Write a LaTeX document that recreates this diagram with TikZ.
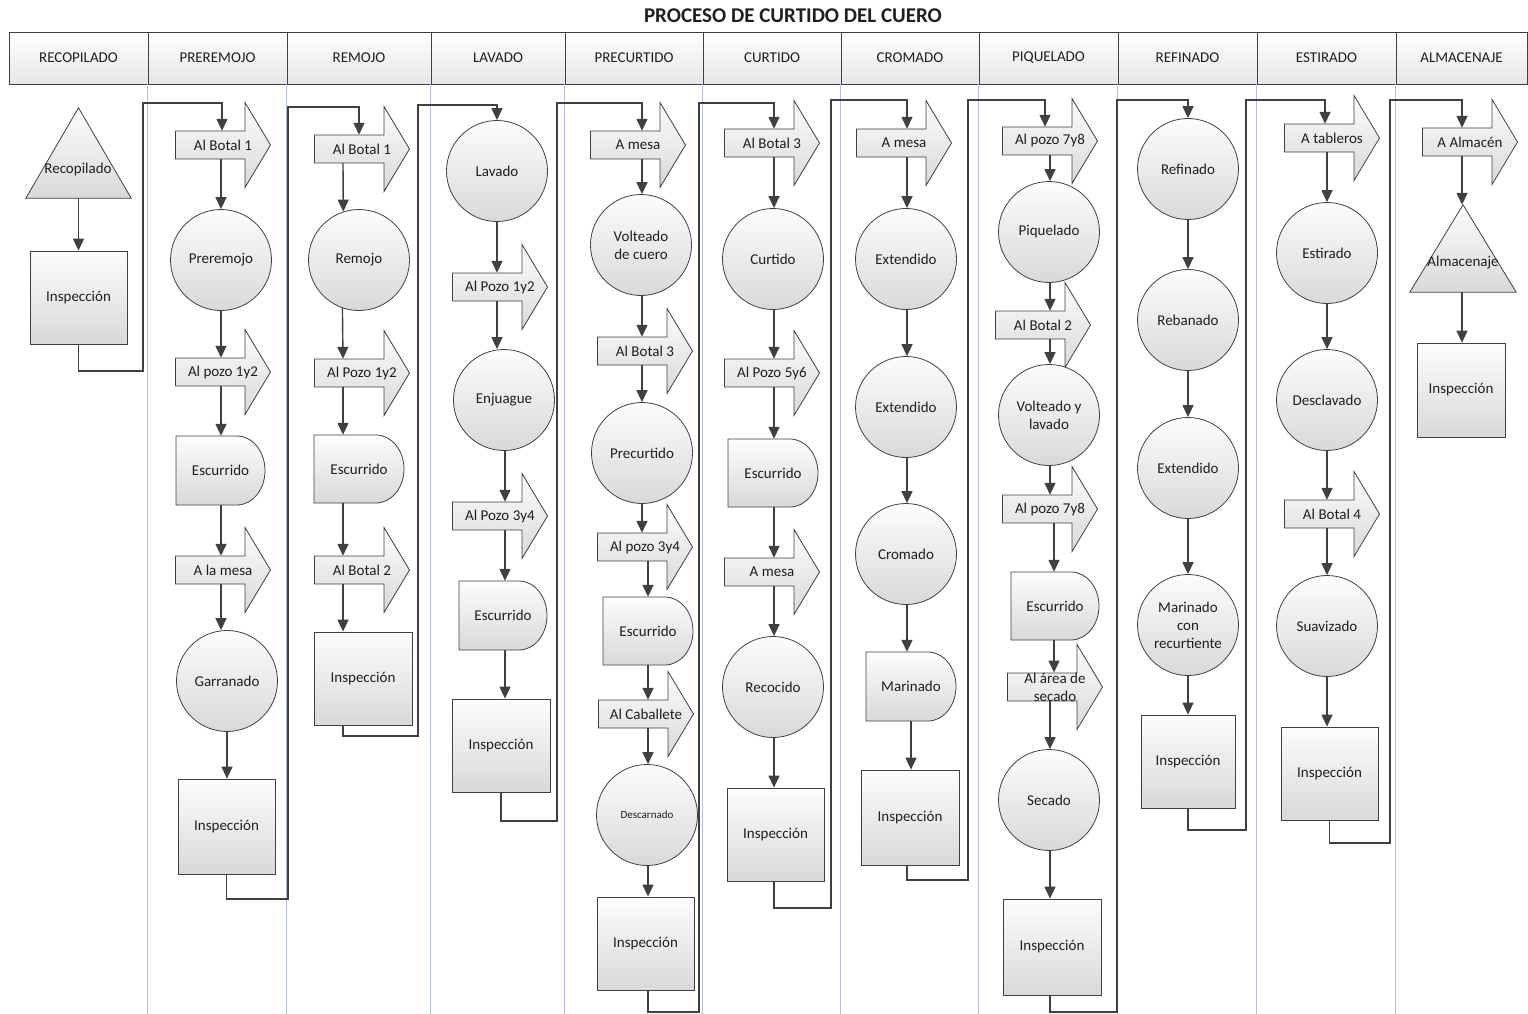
\documentclass[tikz,border=0pt]{standalone}
\usepackage{fontspec}
\setmainfont{Carlito}
\usetikzlibrary{arrows.meta}
\definecolor{linec}{HTML}{404040}
\definecolor{txtc}{HTML}{1F1F1F}
\definecolor{sepc}{HTML}{B4BEE4}
\tikzset{
 shp/.style={draw=linec, line width=0.8pt, top color=black!1, bottom color=black!15},
 txt/.style={text=txtc, font=\fontsize{15}{18}\selectfont, inner sep=0pt, align=center},
 flow/.style={draw=linec, line width=1.4pt, -{Triangle[length=12pt,width=11pt]}},
 box/.style={shp, txt, rectangle},
 proc/.style={shp, txt, circle, minimum size=101},
 trin/.style={inner sep=0pt, rectangle},
 hdr/.style={draw=linec, line width=0.8pt, top color=white, bottom color=black!10, txt, minimum height=52},
 sep/.style={draw=sepc, line width=0.8pt},
}
\newcommand\flowarr[4]{%
 \path[shp] ({#2-47.5},{#3-14}) -- ({#2+22},{#3-14}) -- ({#2+22},{#3-42.5}) -- ({#2+47.5},#3) -- ({#2+22},{#3+42.5}) -- ({#2+22},{#3+14}) -- ({#2-47.5},{#3+14}) -- cycle;
 \node[txt, minimum width=95, minimum height=28] (#1) at (#2,#3) {#4};}
\newcommand\delayshape[6]{%
 \path[shp] (#2,#3) -- ({#4-28},#3) arc[start angle=-90, end angle=90, x radius=28, y radius={(#5-#3)/2}] -- (#2,#5) -- cycle;
 \node[txt, minimum width={#4-#2}, minimum height={#5-#3}] (#1) at ({(#2+#4)/2},{(#3+#5)/2}) {#6};}
\newcommand\fl[3]{\draw[flow] (#1.south -| #3) -- (#2.north -| #3);}
\begin{document}
\begin{tikzpicture}[x=1pt,y=-1pt]
\useasboundingbox (0,0) rectangle (1528,1014);
% title
\node[text=txtc, font=\bfseries\fontsize{21}{24}\selectfont] (title) at (793,16) {PROCESO DE CURTIDO DEL CUERO};
% headers
\node[hdr, minimum width=139] (h1) at (78.5,58) {RECOPILADO};
\node[hdr, minimum width=139] (h2) at (217.5,58) {PREREMOJO};
\node[hdr, minimum width=144] (h3) at (359,58) {REMOJO};
\node[hdr, minimum width=134] (h4) at (498,58) {LAVADO};
\node[hdr, minimum width=138] (h5) at (634,58) {PRECURTIDO};
\node[hdr, minimum width=138] (h6) at (772,58) {CURTIDO};
\node[hdr, minimum width=138] (h7) at (910,58) {CROMADO};
\node[hdr, minimum width=139] (h8) at (1048.5,58) {PIQUELADO};
\node[hdr, minimum width=139] (h9) at (1187.5,58) {REFINADO};
\node[hdr, minimum width=139] (h10) at (1326.5,58) {ESTIRADO};
\node[hdr, minimum width=131] (h11) at (1461.5,58) {ALMACENAJE};
% column separators
\foreach \h in {h2,h3,h4,h5,h6,h7,h8,h9,h10,h11}{\draw[sep] (\h.south west) -- ++(0,930);}
% flow x coordinates
\coordinate (f1) at (78,0);
\coordinate (f2) at (221,0);
\coordinate (e2) at (222,0);
\coordinate (f3) at (343,0);
\coordinate (e3) at (359,0);
\coordinate (f4a) at (497,0);
\coordinate (f4b) at (505,0);
\coordinate (f5a) at (642,0);
\coordinate (f5b) at (648,0);
\coordinate (f6) at (774,0);
\coordinate (f7) at (907,0);
\coordinate (f7b) at (911,0);
\coordinate (e8) at (1045,0);
\coordinate (f8) at (1050,0);
\coordinate (f8b) at (1054,0);
\coordinate (f9) at (1188,0);
\coordinate (e10) at (1325,0);
\coordinate (f10) at (1327,0);
\coordinate (f11) at (1462,0);
% ---------- column 1
\node[trin, minimum width=105, minimum height=90] (tri1) at (78.5,153) {};
\path[shp] (tri1.south west) -- (tri1.south east) -- (tri1.north) -- cycle;
\node[txt] (tri1t) at (78,170) {Recopilado};
\node[box, minimum width=97, minimum height=93] (insp1) at (78.5,297.5) {Inspección};
\draw[flow] (tri1.south) -- (insp1.north);
% ---------- column 2
\flowarr{a21}{223}{145}{Al Botal 1}
\node[proc] (c21) at (221,260) {Preremojo};
\flowarr{a22}{223}{372}{Al pozo 1y2}
\delayshape{d21}{176}{436}{265}{505}{Escurrido}
\flowarr{a23}{223}{570}{A la mesa}
\node[proc] (c22) at (227,681) {Garranado};
\node[box, minimum width=97, minimum height=95] (insp2) at (226.5,826.5) {Inspección};
\fl{a21}{c21}{f2}
\fl{c21}{a22}{f2}
\fl{a22}{d21}{f2}
\fl{d21}{a23}{f2}
\fl{a23}{c22}{f2}
\draw[flow] (c22.south) -- (insp2.north -| c22.south);
% ---------- column 3
\flowarr{a31}{362}{149}{Al Botal 1}
\node[proc] (c31) at (359,260) {Remojo};
\flowarr{a32}{362}{373}{Al Pozo 1y2}
\delayshape{d31}{314}{435}{404}{503}{Escurrido}
\flowarr{a33}{362}{570}{Al Botal 2}
\node[box, minimum width=98, minimum height=93] (insp3) at (363,678.5) {Inspección};
\draw[flow] (a31.south -| f3) -- (c31.108.5);
\draw[flow] (c31.251.5) -- (a32.north -| f3);
\fl{a32}{d31}{f3}
\fl{d31}{a33}{f3}
\fl{a33}{insp3}{f3}
% ---------- column 4
\node[proc] (c41) at (497,171) {Lavado};
\flowarr{a41}{500}{287}{Al Pozo 1y2}
\node[proc] (c42) at (504,400) {Enjuague};
\flowarr{a42}{500}{516}{Al Pozo 3y4}
\delayshape{d41}{459}{581}{547}{650}{Escurrido}
\node[box, minimum width=98, minimum height=93] (insp4) at (501,745.5) {Inspección};
\fl{c41}{a41}{f4a}
\fl{a41}{c42}{f4a}
\fl{c42}{a42}{f4b}
\fl{a42}{d41}{f4b}
\fl{d41}{insp4}{f4b}
% ---------- column 5
\flowarr{a51}{638}{145}{A mesa}
\node[proc] (c51) at (641,245) {Volteado\\de cuero};
\flowarr{a52}{645}{351}{Al Botal 3}
\node[proc] (c52) at (642,453) {Precurtido};
\flowarr{a53}{645}{547}{Al pozo 3y4}
\delayshape{d51}{603}{597}{693}{665}{Escurrido}
\flowarr{a54}{646}{714}{Al Caballete}
\node[proc, font=\fontsize{11}{13}\selectfont] (c53) at (647,815) {Descarnado};
\node[box, minimum width=97, minimum height=93] (insp5) at (645.5,943.5) {Inspección};
\fl{a51}{c51}{f5a}
\fl{c51}{a52}{f5a}
\fl{a52}{c52}{f5a}
\fl{c52}{a53}{f5a}
\fl{a53}{d51}{f5b}
\fl{d51}{a54}{f5b}
\fl{a54}{c53}{f5b}
\fl{c53}{insp5}{f5b}
% ---------- column 6
\flowarr{a61}{772}{143}{Al Botal 3}
\node[proc] (c61) at (773,259) {Curtido};
\flowarr{a62}{772}{373}{Al Pozo 5y6}
\delayshape{d61}{728}{439}{818}{507}{Escurrido}
\flowarr{a63}{772}{572}{A mesa}
\node[proc] (c62) at (773,687) {Recocido};
\node[box, minimum width=97, minimum height=93] (insp6) at (775.5,834.5) {Inspección};
\fl{a61}{c61}{f6}
\fl{c61}{a62}{f6}
\fl{a62}{d61}{f6}
\fl{d61}{a63}{f6}
\fl{a63}{c62}{f6}
\fl{c62}{insp6}{f6}
% ---------- column 7
\flowarr{a71}{904}{143}{A mesa}
\node[proc] (c71) at (906,259) {Extendido};
\node[proc] (c72) at (906,407) {Extendido};
\node[proc] (c73) at (906,554) {Cromado};
\delayshape{d71}{866}{652}{956}{721}{Marinado}
\node[box, minimum width=98, minimum height=95] (insp7) at (910,817.5) {Inspección};
\fl{a71}{c71}{f7}
\fl{c71}{c72}{f7}
\fl{c72}{c73}{f7}
\fl{c73}{d71}{f7}
\fl{d71}{insp7}{f7b}
% ---------- column 8
\flowarr{a81}{1050}{141}{Al pozo 7y8}
\node[proc] (c81) at (1049,232) {Piquelado};
\flowarr{a82}{1043}{325}{Al Botal 2}
\node[proc] (c82) at (1049,415) {Volteado y\\lavado};
\flowarr{a83}{1050}{509}{Al pozo 7y8}
\delayshape{d81}{1011}{572}{1099}{640}{Escurrido}
\flowarr{a84}{1055}{687}{Al área de\\secado}
\node[proc] (c83) at (1049,800) {Secado};
\node[box, minimum width=98, minimum height=96] (insp8) at (1052,947) {Inspección};
\fl{a81}{c81}{f8}
\fl{c81}{a82}{f8}
\fl{a82}{c82}{f8}
\fl{c82}{a83}{f8}
\fl{a83}{d81}{f8b}
\fl{d81}{a84}{f8b}
\fl{a84}{c83}{f8}
\fl{c83}{insp8}{f8}
% ---------- column 9
\node[proc] (c91) at (1188,169) {Refinado};
\node[proc] (c92) at (1188,320) {Rebanado};
\node[proc] (c93) at (1188,468) {Extendido};
\node[proc] (c94) at (1188,625) {Marinado\\con\\recurtiente};
\node[box, minimum width=94, minimum height=93] (insp9) at (1188,761.5) {Inspección};
\fl{c91}{c92}{f9}
\fl{c92}{c93}{f9}
\fl{c93}{c94}{f9}
\fl{c94}{insp9}{f9}
% ---------- column 10
\flowarr{a101}{1332}{138}{A tableros}
\node[proc] (c101) at (1327,253) {Estirado};
\node[proc] (c102) at (1327,400) {Desclavado};
\flowarr{a102}{1332}{514}{Al Botal 4}
\node[proc] (c103) at (1327,626) {Suavizado};
\node[box, minimum width=97, minimum height=93] (insp10) at (1329.5,773.5) {Inspección};
\fl{a101}{c101}{f10}
\fl{c101}{c102}{f10}
\fl{c102}{a102}{f10}
\fl{a102}{c103}{f10}
\fl{c103}{insp10}{f10}
% ---------- column 11
\flowarr{a111}{1470}{142}{A Almacén}
\node[trin, minimum width=106, minimum height=87] (tri2) at (1463,248.5) {};
\path[shp] (tri2.south west) -- (tri2.south east) -- (tri2.north) -- cycle;
\node[txt] (tri2t) at (1463,263) {Almacenaje};
\node[box, minimum width=88, minimum height=94] (insp11) at (1461,390) {Inspección};
\fl{a111}{tri2}{f11}
\fl{tri2}{insp11}{f11}
% ---------- return connectors
\coordinate (r1a) at (143,371); \coordinate (r1b) at (143,103);
\draw[flow] (insp1.south) |- (r1a) -- (r1b) -| (a21.north -| e2);
\coordinate (r2a) at (288,899); \coordinate (r2b) at (288,107);
\draw[flow] (insp2.south) |- (r2a) -- (r2b) -| (a31.north -| e3);
\coordinate (r3a) at (418,736); \coordinate (r3b) at (418,105);
\draw[flow] (insp3.south -| f3) |- (r3a) -- (r3b) -| (c41.north);
\coordinate (r4a) at (557,821); \coordinate (r4b) at (557,103);
\draw[flow] (insp4.south) |- (r4a) -- (r4b) -| (a51.north -| f5a);
\coordinate (r5a) at (699,1012); \coordinate (r5b) at (699,103);
\draw[flow] (insp5.south -| f5b) |- (r5a) -- (r5b) -| (a61.north -| f6);
\coordinate (r6a) at (831,908); \coordinate (r6b) at (831,100);
\draw[flow] (insp6.south -| f6) |- (r6a) -- (r6b) -| (a71.north -| f7);
\coordinate (r7a) at (968,880); \coordinate (r7b) at (968,100);
\draw[flow] (insp7.south -| f7) |- (r7a) -- (r7b) -| (a81.north -| e8);
\coordinate (r8a) at (1117,1012); \coordinate (r8b) at (1117,100);
\draw[flow] (insp8.south -| f8) |- (r8a) -- (r8b) -| (c91.north);
\coordinate (r9a) at (1246,830); \coordinate (r9b) at (1246,100);
\draw[flow] (insp9.south) |- (r9a) -- (r9b) -| (a101.north -| e10);
\coordinate (r10a) at (1390,843); \coordinate (r10b) at (1390,100);
\draw[flow] (insp10.south) |- (r10a) -- (r10b) -| (a111.north -| f11);
\end{tikzpicture}
\end{document}
